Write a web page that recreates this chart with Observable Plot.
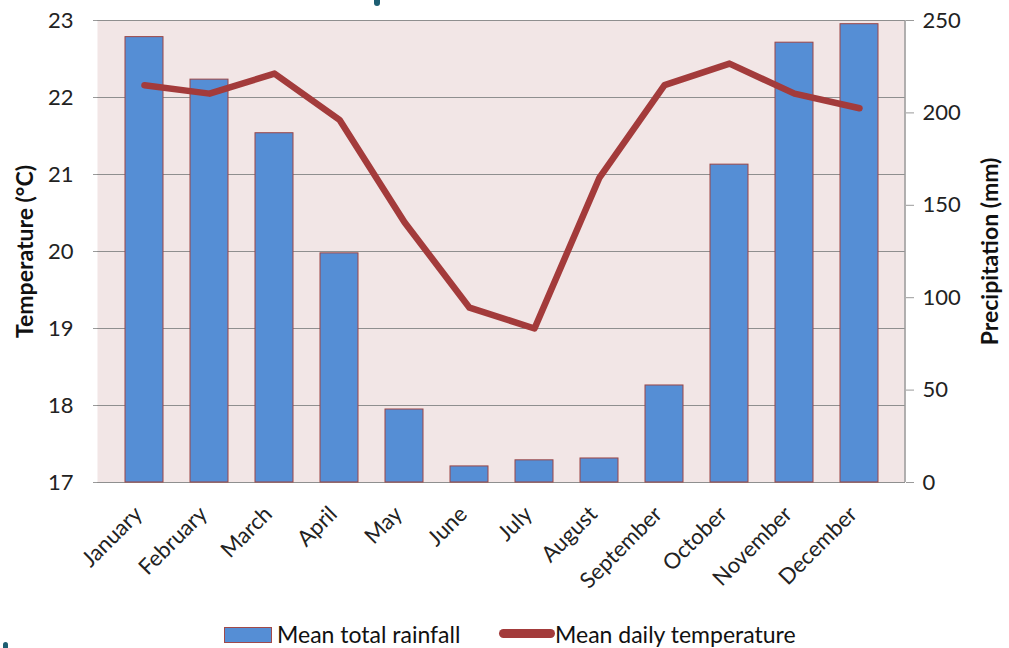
<!DOCTYPE html>
<html>
<head>
<meta charset="utf-8">
<script src="https://cdn.jsdelivr.net/npm/d3@7"></script>
<script src="https://cdn.jsdelivr.net/npm/@observablehq/plot@0.6"></script>
<style>
  html, body { margin: 0; padding: 0; background: #fff; }
  #wrap { position: relative; width: 1009px; height: 648px; overflow: hidden; font-family: Lato, sans-serif; }
  #legend { position: absolute; left: 0; top: 620px; width: 1009px; height: 28px; }
  .lg { position: absolute; font-size: 23px; color: #111; line-height: 28px; top: 0; white-space: nowrap; }
  .sw-bar { position: absolute; left: 224px; top: 7px; width: 46px; height: 14px; background: #558ed5; border: 1px solid #a04a4a; }
  .sw-line { position: absolute; left: 499px; top: 9px; width: 56px; height: 9px; background: #a33b3b; border-radius: 5px; }
  .art1 { position: absolute; left: 374px; top: 0; width: 6px; height: 6px; background: #1d5e72; border-radius: 0 0 3px 3px; }
  .art2 { position: absolute; left: 3px; top: 642px; width: 5px; height: 6px; background: #1d5e72; border-radius: 3px 3px 0 0; }
</style>
</head>
<body>
<div id="wrap">
  <div id="chart"></div>
  <div id="legend">
    <div class="sw-bar"></div>
    <div class="lg" style="left:277px">Mean total rainfall</div>
    <div class="sw-line"></div>
    <div class="lg" style="left:555px">Mean daily temperature</div>
  </div>
  <div class="art1"></div>
  <div class="art2"></div>
</div>
<script>
const months = ["January","February","March","April","May","June","July","August","September","October","November","December"];
const rainfall = [241, 218, 189, 124, 39.5, 8.7, 12, 13, 52.5, 172, 238, 248];
const temperature = [22.16, 22.05, 22.31, 21.71, 20.38, 19.27, 19.0, 20.96, 22.16, 22.44, 22.05, 21.86];
const tempTicks = [17, 18, 19, 20, 21, 22, 23];
const rainTicks = [0, 50, 100, 150, 200, 250];
const tempLabel = "Temperature (°C)";
const rainLabel = "Precipitation (mm)";

const T0 = 17, T1 = 23, R1 = 250;
const toT = r => T0 + r * (T1 - T0) / R1;
const toR = t => (t - T0) * R1 / (T1 - T0);

const data = months.map((m, i) => ({month: m, rain: rainfall[i], temp: temperature[i]}));

const rightLine = (index, scales, values, dims) => {
  const x = dims.width - dims.marginRight;
  const g = d3.create("svg:line")
    .attr("x1", x).attr("x2", x)
    .attr("y1", dims.marginTop).attr("y2", dims.height - dims.marginBottom)
    .attr("stroke", "#9a9a9a").attr("stroke-width", 1.5);
  return g.node();
};

const chart = Plot.plot({
  width: 1009,
  height: 620,
  marginLeft: 97,
  marginRight: 104,
  marginTop: 20,
  marginBottom: 138,
  style: {fontFamily: "Lato, sans-serif", fontSize: "22px", color: "#222", background: "transparent"},
  x: {domain: months, padding: 0.42, label: null},
  y: {domain: [T0, T1], label: null},
  marks: [
    Plot.frame({fill: "#f2e6e6", stroke: null}),
    Plot.gridY(tempTicks, {stroke: "#8f8f8f", strokeOpacity: 1, strokeWidth: 1.2}),
    rightLine,
    Plot.barY(data, {x: "month", y1: () => T0, y2: d => toT(d.rain), fill: "#558ed5", stroke: "#9c4545", strokeWidth: 1}),
    Plot.line(data, {x: "month", y: "temp", stroke: "#a33b3b", strokeWidth: 6.5, strokeLinecap: "round", strokeLinejoin: "round"}),
    Plot.axisY({anchor: "left", ticks: tempTicks, tickFormat: d => String(d), tickSize: 4, tickPadding: 20, stroke: "#9a9a9a", fontSize: 22, label: null}),
    Plot.axisY({anchor: "right", ticks: rainTicks.map(toT), tickFormat: t => String(Math.round(toR(t))), tickSize: 8, tickPadding: 9, stroke: "#9a9a9a", fontSize: 22, label: null}),
    Plot.axisX({tickRotate: -45, tickSize: 0, tickPadding: 28, dx: -6, fontSize: 22, label: null}),
    Plot.text([tempLabel], {text: d => d, frameAnchor: "left", dx: -72, rotate: -90, textAnchor: "middle", fontWeight: "bold", fontSize: 23, fill: "#111"}),
    Plot.text([rainLabel], {text: d => d, frameAnchor: "right", dx: 85, rotate: -90, textAnchor: "middle", fontWeight: "bold", fontSize: 23, fill: "#111"})
  ]
});
document.getElementById("chart").appendChild(chart);
</script>
</body>
</html>
